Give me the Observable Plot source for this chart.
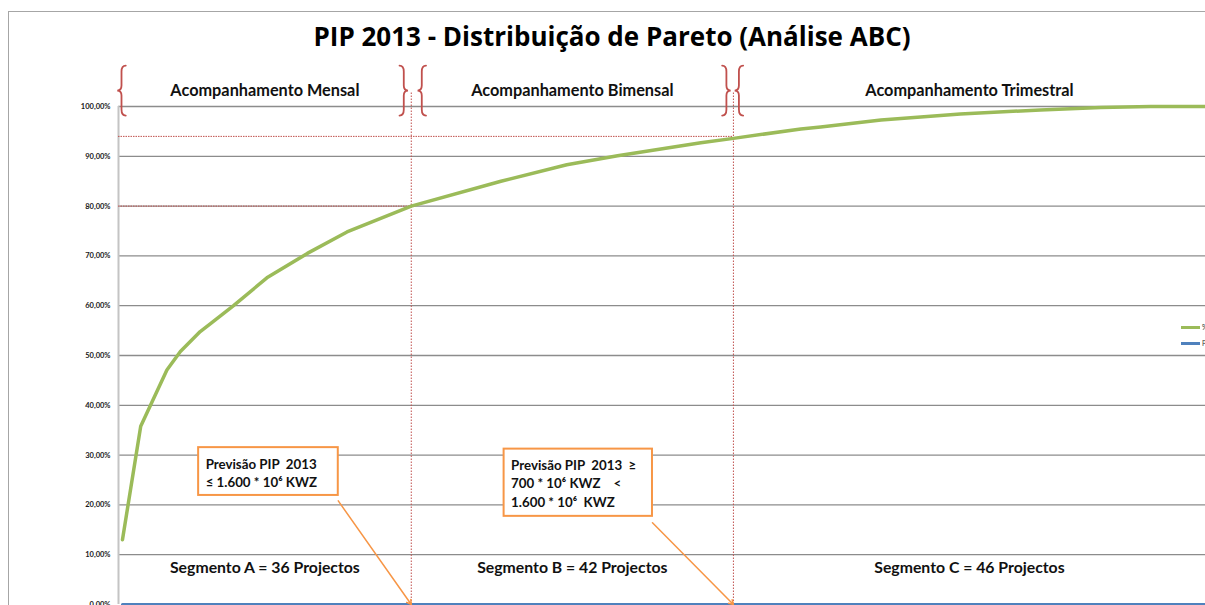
<!DOCTYPE html>
<html>
<head>
<meta charset="utf-8">
<script src="https://cdn.jsdelivr.net/npm/d3@7"></script>
<script src="https://cdn.jsdelivr.net/npm/@observablehq/plot@0.6"></script>
<style>
  html, body { margin: 0; padding: 0; background: #fff; }
  #wrap { position: relative; width: 1205px; height: 605px; overflow: hidden; background: #fff; }
  #frame { position: absolute; left: 8px; top: 11px; width: 1300px; height: 700px; border: 1.5px solid #a6a6a6; box-sizing: border-box; }
  #title { position: absolute; left: 0; width: 1224px; top: 23px; text-align: center; font: bold 26px "Open Sans", Lato, sans-serif; line-height: 1; color: #000; white-space: nowrap; }
  #chart { position: absolute; left: 0; top: 0; }
  .leg { position: absolute; left: 1181px; font: 7px Lato, sans-serif; color: #333; white-space: nowrap; display: flex; align-items: center; }
  .leg span.sw { display: inline-block; width: 19px; height: 3px; margin-right: 2px; }
</style>
</head>
<body>
<div id="wrap">
  <div id="frame"></div>
  <div id="chart"></div>
  <div id="title"></div>
  <div class="leg" style="top:323px"><span class="sw" style="background:#9bbb59"></span><span id="leg1"></span></div>
  <div class="leg" style="top:339px"><span class="sw" style="background:#4f81bd"></span><span id="leg2"></span></div>
</div>
<script>
// ---------- data ----------
const titleText = "PIP 2013 - Distribuição de Pareto (Análise ABC)";
const seriesNames = ["% Acumulado", "Projectos"];

// project rank (position along the x axis) and cumulative percentage
const ranks  = [1, 3.3, 6.6, 8.3, 10.8, 12.1, 15, 19.2, 24.3, 29.3, 37.4, 48.7, 57, 63.4, 73.9, 78, 86.5, 89, 96.6, 106.6, 116.7, 124.3, 130.6, 137.5];
const cumPct = [13.0, 35.8, 47.1, 50.8, 54.8, 56.4, 60.0, 65.6, 70.5, 74.8, 80.0, 85.0, 88.3, 90.1, 92.7, 93.6, 95.5, 95.9, 97.3, 98.5, 99.3, 99.8, 100, 100];
const projSeries = [0, 0, 0, 0, 0, 0, 0, 0, 0, 0, 0, 0, 0, 0, 0, 0, 0, 0, 0, 0, 0, 0, 0, 0];

const xDomain = [0.5, 137.5];
const yTicks = [0, 10, 20, 30, 40, 50, 60, 70, 80, 90, 100];

// segments
const segEdges = [0.5, 37.4, 78, 137.5];
const cutoffPct = [80, 94];
const segmentLabels = ["Segmento A = 36 Projectos", "Segmento B = 42 Projectos", "Segmento C = 46 Projectos"];
const bracketLabels = ["Acompanhamento Mensal", "Acompanhamento Bimensal", "Acompanhamento Trimestral"];
const segLabelY = 7.3;
const bracketY = 103.1;
const boundaryTop = 103;

// braces around the bracket labels: "{" opens (tip left), "}" closes (tip right)
const braceDir   = [1, -1, 1, -1, 1];
const braceX     = [0.5, 37.4, 37.4, 78, 78];
const braceShift = [3.5, -7, 11, -6.5, 6];

// callout boxes
const calloutText = [
  "Previsão PIP  2013\n≤ 1.600 * 10⁶ KWZ",
  "Previsão PIP  2013  ≥\n700 * 10⁶ KWZ    <\n1.600 * 10⁶  KWZ"
];
const calloutX1 = [10.6, 49.1];
const calloutX2 = [28.2, 67.8];
const calloutY1 = [21.9, 17.7];
const calloutY2 = [31.5, 31.2];
const pointerFromY = [20.8, 16.4];
const pointerToX = [37.4, 78];
const pointerToY = [0, 0];

// ---------- build ----------
const curve = ranks.map((r, i) => ({x: r, y: cumPct[i]}));
const proj = ranks.map((r, i) => ({x: r, y: projSeries[i]}));
const segs = segmentLabels.map((s, i) => ({
  label: s, bracket: bracketLabels[i], mid: (segEdges[i] + segEdges[i + 1]) / 2
}));
const cut = cutoffPct.map((p, i) => ({y: p, x1: segEdges[0], x2: segEdges[i + 1]}));
const bounds = segEdges.slice(1, 3);
const callouts = calloutText.map((t, i) => ({
  t, x1: calloutX1[i], x2: calloutX2[i], y1: calloutY1[i], y2: calloutY2[i],
  px1: calloutX2[i], py1: pointerFromY[i], px2: pointerToX[i], py2: pointerToY[i]
}));

const red = "#c0504d";
const orange = "#f79646";
const font = "Lato, 'Open Sans', sans-serif";

const chart = Plot.plot({
  width: 1205,
  height: 605,
  marginLeft: 118,
  marginRight: 0,
  marginTop: 106,
  marginBottom: 1,
  style: {fontFamily: font, fontSize: "7.5px", fontWeight: "bold", color: "#1a1a1a", background: "transparent", overflow: "visible"},
  x: {domain: xDomain, axis: null},
  y: {domain: [0, 100], ticks: yTicks, tickSize: 0, tickPadding: 8, label: null,
      tickFormat: d => d.toFixed(2).replace(".", ",") + "%"},
  marks: [
    Plot.ruleY(yTicks.slice(1), {stroke: "#8c8c8c", strokeWidth: 1.3}),
    Plot.ruleX([xDomain[0]], {stroke: "#c4c4c4", strokeWidth: 2}),
    // cutoff dotted lines
    Plot.ruleY(cut, {y: "y", x1: "x1", x2: "x2", stroke: red, strokeWidth: 1, strokeDasharray: "1.5,1"}),
    Plot.ruleX(bounds, {x: d => d, y1: 0, y2: boundaryTop, stroke: red, strokeWidth: 1, strokeDasharray: "1.5,1.5"}),
    // series
    Plot.line(proj, {x: "x", y: "y", stroke: "#4f81bd", strokeWidth: 3}),
    Plot.line(curve, {x: "x", y: "y", stroke: "#9bbb59", strokeWidth: 3.5}),
    // callouts
    Plot.arrow(callouts, {x1: "px1", y1: "py1", x2: "px2", y2: "py2", stroke: orange, strokeWidth: 1.5, headLength: 5}),
    Plot.rect(callouts, {x1: "x1", x2: "x2", y1: "y1", y2: "y2", fill: "white", stroke: orange, strokeWidth: 2}),
    Plot.text(callouts, {x: "x1", y: "y2", text: "t", textAnchor: "start", lineAnchor: "top", dx: 7, dy: 8,
      lineHeight: 1.38, fontSize: 13.3, fontWeight: "bold", fontFamily: font, fill: "#111", ariaLabel: "callout"}),
    // labels
    Plot.text(segs, {x: "mid", y: segLabelY, text: "label", fontSize: 15.8, fontWeight: "bold", fontFamily: font, fill: "#111"}),
    Plot.text(segs, {x: "mid", y: bracketY, text: "bracket", fontSize: 16.3, fontWeight: "bold", fontFamily: font, fill: "#111"})
  ]
});

document.getElementById("chart").appendChild(chart);
document.getElementById("title").textContent = titleText;
document.getElementById("leg1").textContent = seriesNames[0];
document.getElementById("leg2").textContent = seriesNames[1];

// braces drawn through the chart's own scales
const sx = chart.scale("x"), sy = chart.scale("y");
const X = v => sx.apply(v), Y = v => sy.apply(v);
const braceH = 50, braceW = 8.5;
function bracePath(cx, cy, dir) {
  const h = braceH, w = braceW;
  const xe = cx + dir * w / 2, xt = cx - dir * w / 2, xm = cx;
  const t = cy - h / 2, b = cy + h / 2;
  return `M${xe},${t} Q${xm},${t} ${xm},${t + 6} L${xm},${cy - 5} Q${xm},${cy} ${xt},${cy} ` +
         `Q${xm},${cy} ${xm},${cy + 5} L${xm},${b - 6} Q${xm},${b} ${xe},${b}`;
}
const gB = d3.select(chart).append("g").attr("aria-label", "braces");
braceDir.forEach((dir, i) => {
  gB.append("path")
    .attr("d", bracePath(X(braceX[i]) + braceShift[i], Y(bracketY), dir))
    .attr("fill", "none").attr("stroke", red).attr("stroke-width", 1.8).attr("stroke-linecap", "round");
});

// superscript exponent in the callouts
d3.select(chart).selectAll('g[aria-label="callout"] text').each(function() {
  const nodes = this.querySelectorAll("tspan").length ? Array.from(this.querySelectorAll("tspan")) : [this];
  nodes.forEach(node => {
    const s = node.textContent;
    if (!s.includes("⁶")) return;
    const parts = s.split("⁶");
    node.textContent = "";
    parts.forEach((p, k) => {
      node.appendChild(document.createTextNode(p));
      if (k < parts.length - 1) {
        const sup = document.createElementNS("http://www.w3.org/2000/svg", "tspan");
        sup.setAttribute("baseline-shift", "super");
        sup.setAttribute("font-size", "8.5");
        sup.textContent = "6";
        node.appendChild(sup);
      }
    });
  });
});
</script>
</body>
</html>
